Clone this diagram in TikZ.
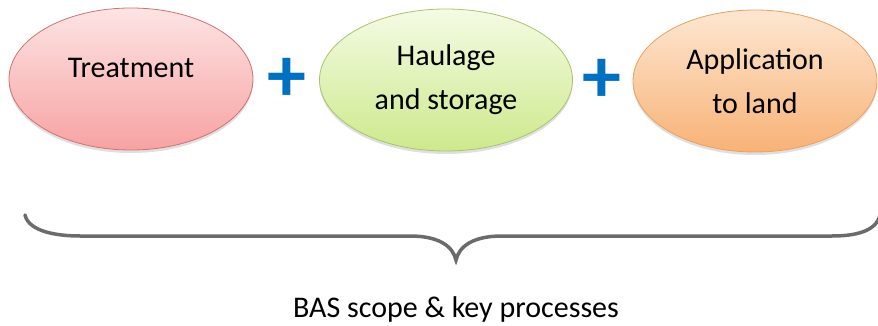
\documentclass[tikz,border=0pt]{standalone}
\usepackage{fontspec}
\setmainfont{Carlito}
\usepackage{tikz}
\usetikzlibrary{shapes.geometric,shadows}

\definecolor{treatTop}{HTML}{FDE4E4}
\definecolor{treatBot}{HTML}{F7A2A2}
\definecolor{treatLine}{HTML}{D07070}
\definecolor{haulTop}{HTML}{F4FBE4}
\definecolor{haulBot}{HTML}{CDE98C}
\definecolor{haulLine}{HTML}{A8C46C}
\definecolor{applyTop}{HTML}{FDE7D2}
\definecolor{applyBot}{HTML}{F8B276}
\definecolor{applyLine}{HTML}{EE9E5E}
\definecolor{plusBlue}{HTML}{0070C0}
\definecolor{braceGrey}{HTML}{6B6B6B}

\begin{document}
\begin{tikzpicture}[x=1pt,y=-1pt,
		proc/.style={ellipse, minimum width=244pt, minimum height=142pt, line width=0.8pt,
			align=center, font=\fontsize{30}{44}\selectfont,
			drop shadow={opacity=0.25, shadow xshift=0pt, shadow yshift=-3pt}},
		plus/.style={text=plusBlue, inner sep=0pt, font=\fontsize{78}{78}\selectfont\bfseries}]
				\useasboundingbox (0,0) rectangle (878,326);
				% the three processes
				\node[proc, draw=treatLine, top color=treatTop, bottom color=treatBot, text depth=22pt] (treat) at (131,79) {Treatment};
				\node[proc, minimum width=253pt, draw=haulLine, top color=haulTop, bottom color=haulBot] (haul) at (446,80) {Haulage\\and storage};
				\node[proc, draw=applyLine, top color=applyTop, bottom color=applyBot] (apply) at (755,81) {Application\\to land};
				\node[plus] (plusA) at (287,80) {+};
				\node[plus] (plusB) at (602,81) {+};
				% brace
				\coordinate (bl) at (25,215);
				\coordinate (tip) at (456,260);
				\coordinate (br) at (880,215);
				\draw[braceGrey, line width=3.5pt, line cap=round] (bl) .. controls (29,232) and (58,236) .. (80,236) -- (410,236)
					.. controls (440,236) and (453,247) .. (tip)
					.. controls (459,247) and (472,236) .. (502,236) -- (832,236)
					.. controls (854,236) and (876,232) .. (br);
				\node[anchor=base, font=\fontsize{30}{36}\selectfont] (scope) at (456,317) {BAS scope \& key processes};
\end{tikzpicture}
\end{document}
